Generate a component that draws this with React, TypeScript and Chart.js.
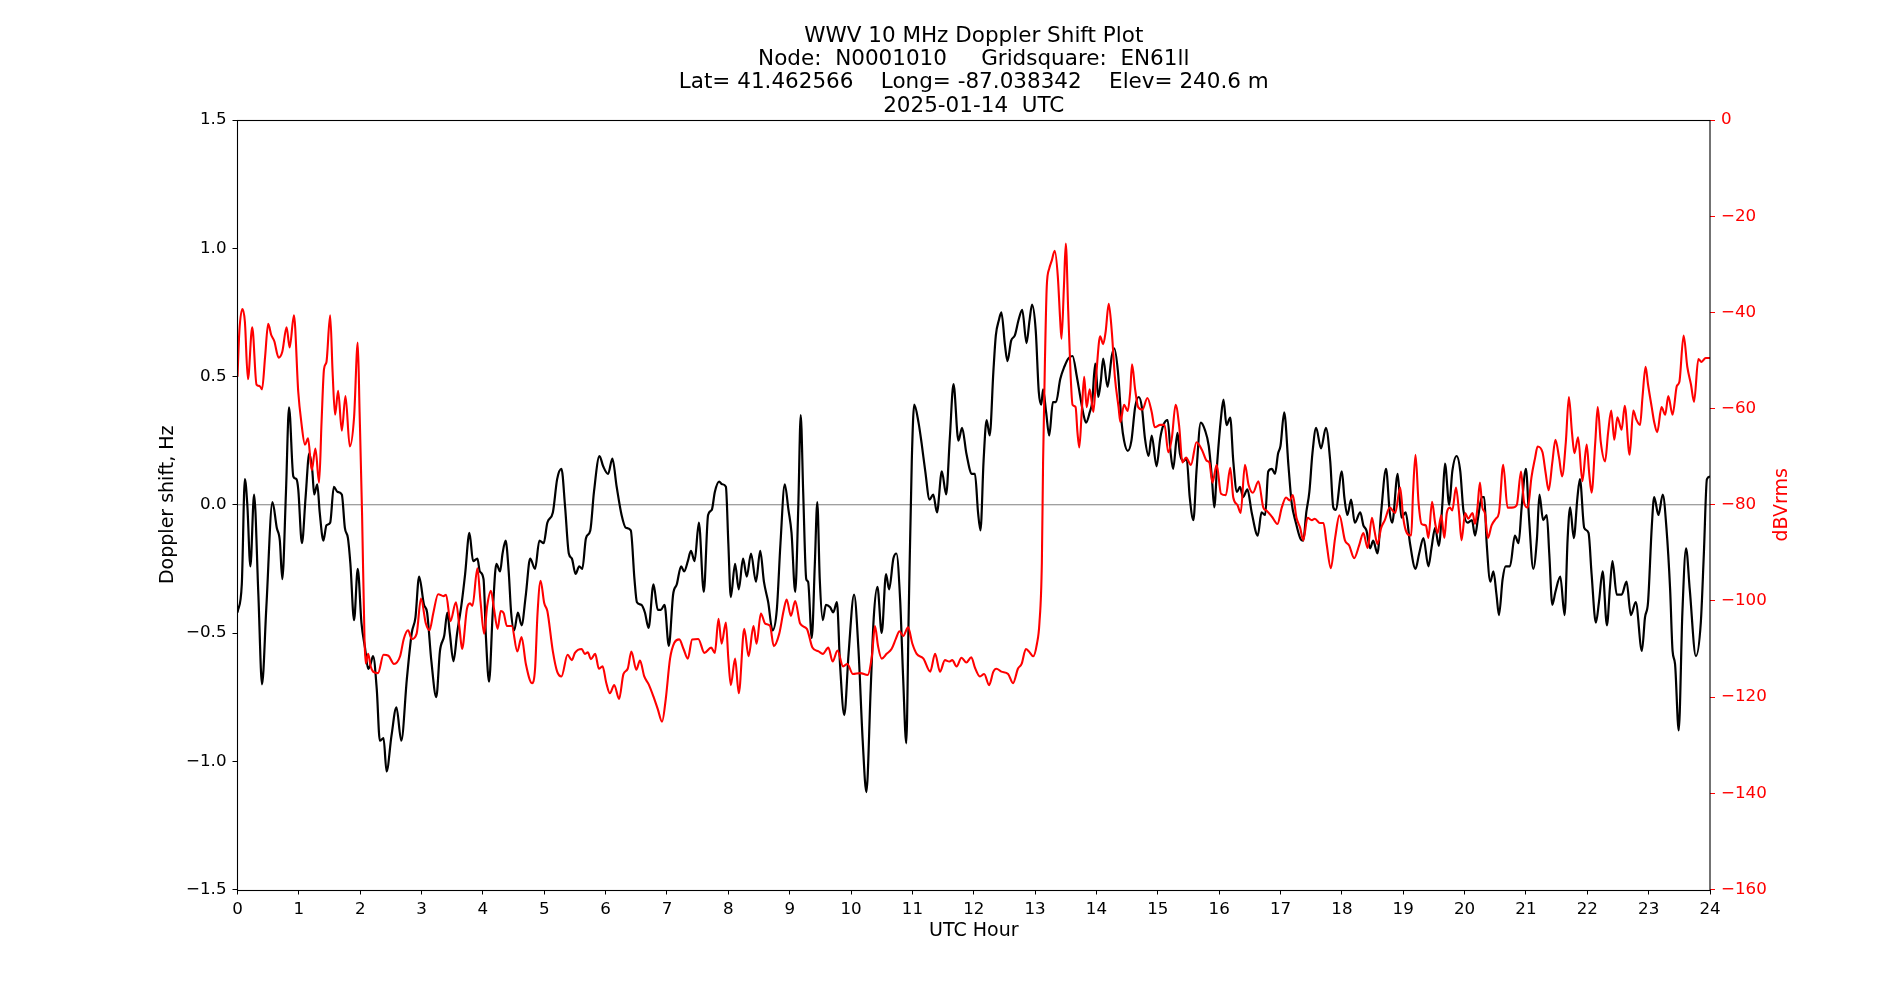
import React, { useEffect, useRef } from "react";
import { Chart, registerables } from "chart.js";

Chart.register(...registerables);

const TITLE_LINES = [
  "WWV 10 MHz Doppler Shift Plot",
  "Node:  N0001010     Gridsquare:  EN61ll",
  "Lat= 41.462566    Long= -87.038342    Elev= 240.6 m",
  "2025-01-14  UTC",
];
const X_LABEL = "UTC Hour";
const Y_LABEL = "Doppler shift, Hz";
const Y2_LABEL = "dBVrms";

const dopplerHours = [
  0.00, 0.07, 0.12, 0.16, 0.21, 0.27, 0.34, 0.40, 0.47, 0.57,
  0.64, 0.69, 0.73, 0.79, 0.84, 0.91, 0.96, 0.99, 1.05, 1.11,
  1.17, 1.22, 1.25, 1.30, 1.34, 1.40, 1.45, 1.51, 1.57, 1.63,
  1.70, 1.75, 1.80, 1.84, 1.90, 1.96, 2.02, 2.08, 2.13, 2.17,
  2.21, 2.27, 2.32, 2.38, 2.43, 2.51, 2.59, 2.67, 2.76, 2.84,
  2.90, 2.96, 3.04, 3.09, 3.16, 3.24, 3.30, 3.37, 3.42, 3.46,
  3.52, 3.58, 3.65, 3.71, 3.78, 3.84, 3.91, 3.95, 4.01, 4.05,
  4.10, 4.16, 4.22, 4.28, 4.32, 4.37, 4.42, 4.46, 4.51, 4.57,
  4.63, 4.70, 4.77, 4.85, 4.92, 4.99, 5.05, 5.14, 5.21, 5.28,
  5.34, 5.40, 5.45, 5.51, 5.57, 5.62, 5.68, 5.75, 5.81, 5.90,
  5.96, 6.04, 6.11, 6.18, 6.26, 6.33, 6.41, 6.47, 6.51, 6.58,
  6.64, 6.70, 6.78, 6.85, 6.90, 6.96, 7.03, 7.10, 7.16, 7.23,
  7.28, 7.34, 7.39, 7.45, 7.52, 7.60, 7.67, 7.73, 7.78, 7.85,
  7.90, 7.96, 8.00, 8.04, 8.11, 8.17, 8.24, 8.30, 8.37, 8.45,
  8.52, 8.58, 8.65, 8.72, 8.79, 8.85, 8.92, 8.98, 9.03, 9.09,
  9.14, 9.18, 9.22, 9.27, 9.30, 9.36, 9.41, 9.45, 9.49, 9.54,
  9.59, 9.66, 9.71, 9.77, 9.82, 9.89, 9.96, 10.05, 10.12, 10.19,
  10.25, 10.32, 10.37, 10.43, 10.50, 10.57, 10.62, 10.69, 10.74, 10.80,
  10.85, 10.90, 10.94, 10.99, 11.03, 11.10, 11.15, 11.21, 11.28, 11.34,
  11.40, 11.48, 11.55, 11.61, 11.67, 11.75, 11.81, 11.88, 11.97, 12.02,
  12.07, 12.11, 12.16, 12.21, 12.26, 12.32, 12.36, 12.41, 12.45, 12.51,
  12.55, 12.61, 12.67, 12.73, 12.79, 12.86, 12.91, 12.95, 13.01, 13.06,
  13.10, 13.13, 13.18, 13.23, 13.29, 13.34, 13.41, 13.48, 13.54, 13.61,
  13.68, 13.73, 13.79, 13.83, 13.89, 13.93, 13.98, 14.03, 14.07, 14.11,
  14.18, 14.25, 14.29, 14.35, 14.41, 14.45, 14.51, 14.57, 14.63, 14.69,
  14.74, 14.79, 14.85, 14.90, 14.98, 15.04, 15.09, 15.16, 15.21, 15.25,
  15.32, 15.36, 15.42, 15.47, 15.52, 15.58, 15.63, 15.70, 15.77, 15.83,
  15.88, 15.92, 15.97, 16.03, 16.07, 16.12, 16.18, 16.23, 16.29, 16.34,
  16.39, 16.46, 16.53, 16.63, 16.69, 16.75, 16.80, 16.86, 16.91, 16.96,
  17.00, 17.06, 17.13, 17.18, 17.25, 17.32, 17.37, 17.42, 17.47, 17.52,
  17.58, 17.66, 17.74, 17.81, 17.86, 17.90, 18.00, 18.04, 18.09, 18.15,
  18.21, 18.30, 18.35, 18.40, 18.46, 18.51, 18.58, 18.64, 18.72, 18.78,
  18.82, 18.91, 18.97, 19.04, 19.11, 19.20, 19.26, 19.33, 19.41, 19.46,
  19.52, 19.58, 19.64, 19.68, 19.75, 19.80, 19.87, 19.93, 19.98, 20.05,
  20.12, 20.17, 20.22, 20.28, 20.32, 20.36, 20.42, 20.47, 20.52, 20.56,
  20.62, 20.67, 20.74, 20.82, 20.88, 20.93, 21.00, 21.05, 21.12, 21.18,
  21.22, 21.28, 21.34, 21.38, 21.43, 21.48, 21.56, 21.63, 21.68, 21.72,
  21.78, 21.84, 21.88, 21.95, 22.02, 22.07, 22.14, 22.19, 22.25, 22.32,
  22.37, 22.41, 22.48, 22.56, 22.64, 22.71, 22.79, 22.89, 22.94, 22.99,
  23.05, 23.09, 23.16, 23.23, 23.29, 23.35, 23.39, 23.43, 23.49, 23.55,
  23.61, 23.67, 23.77, 23.85, 23.90, 23.95, 24.00,
];

const dopplerHz = [
  -0.42, -0.31, 0.10, 0.00, -0.24, 0.04, -0.35, -0.70, -0.40, 0.01,
  -0.09, -0.14, -0.29, 0.05, 0.38, 0.11, 0.10, 0.06, -0.15, 0.03,
  0.20, 0.13, 0.04, 0.08, -0.03, -0.14, -0.08, -0.07, 0.07, 0.05,
  0.04, -0.09, -0.13, -0.23, -0.45, -0.25, -0.46, -0.56, -0.64, -0.62,
  -0.59, -0.72, -0.92, -0.91, -1.04, -0.90, -0.79, -0.92, -0.68, -0.50,
  -0.44, -0.28, -0.39, -0.42, -0.61, -0.75, -0.57, -0.51, -0.42, -0.50,
  -0.61, -0.50, -0.39, -0.27, -0.11, -0.22, -0.21, -0.26, -0.29, -0.52,
  -0.69, -0.42, -0.23, -0.26, -0.19, -0.14, -0.26, -0.42, -0.49, -0.42,
  -0.47, -0.35, -0.21, -0.25, -0.14, -0.15, -0.07, -0.03, 0.10, 0.14,
  -0.01, -0.19, -0.21, -0.27, -0.24, -0.25, -0.13, -0.10, 0.05, 0.19,
  0.15, 0.12, 0.18, 0.07, -0.04, -0.09, -0.10, -0.29, -0.38, -0.39,
  -0.42, -0.48, -0.31, -0.41, -0.41, -0.39, -0.55, -0.35, -0.31, -0.24,
  -0.26, -0.22, -0.18, -0.22, -0.07, -0.34, -0.04, -0.02, 0.05, 0.09,
  0.08, 0.07, -0.15, -0.36, -0.23, -0.33, -0.21, -0.28, -0.19, -0.30,
  -0.18, -0.30, -0.38, -0.49, -0.41, -0.15, 0.08, -0.02, -0.11, -0.34,
  -0.01, 0.35, 0.05, -0.29, -0.30, -0.52, -0.23, 0.01, -0.29, -0.45,
  -0.39, -0.40, -0.42, -0.38, -0.62, -0.82, -0.58, -0.35, -0.56, -0.92,
  -1.12, -0.72, -0.44, -0.32, -0.50, -0.27, -0.33, -0.21, -0.19, -0.37,
  -0.68, -0.93, -0.42, 0.17, 0.39, 0.32, 0.24, 0.13, 0.02, 0.04,
  -0.03, 0.13, 0.04, 0.26, 0.47, 0.25, 0.30, 0.20, 0.12, 0.12,
  -0.03, -0.10, 0.17, 0.33, 0.27, 0.52, 0.66, 0.72, 0.75, 0.62,
  0.56, 0.64, 0.66, 0.72, 0.76, 0.63, 0.72, 0.78, 0.68, 0.44,
  0.39, 0.45, 0.36, 0.27, 0.40, 0.40, 0.49, 0.54, 0.57, 0.58,
  0.50, 0.43, 0.35, 0.32, 0.36, 0.40, 0.55, 0.42, 0.48, 0.57,
  0.46, 0.58, 0.61, 0.52, 0.32, 0.25, 0.21, 0.25, 0.38, 0.42,
  0.38, 0.26, 0.19, 0.27, 0.15, 0.26, 0.31, 0.33, 0.20, 0.14,
  0.28, 0.20, 0.17, 0.18, 0.03, -0.06, 0.13, 0.32, 0.29, 0.23,
  0.11, -0.01, 0.17, 0.34, 0.41, 0.31, 0.34, 0.17, 0.05, 0.07,
  0.03, 0.06, -0.03, -0.12, -0.03, -0.04, 0.13, 0.14, 0.12, 0.20,
  0.23, 0.36, 0.15, 0.01, -0.07, -0.13, -0.14, -0.03, 0.05, 0.20,
  0.30, 0.22, 0.30, 0.17, -0.01, -0.02, 0.13, 0.03, -0.04, 0.02,
  -0.07, -0.03, -0.08, -0.10, -0.17, -0.14, -0.19, -0.03, 0.14, -0.03,
  -0.07, 0.12, -0.05, -0.03, -0.15, -0.25, -0.19, -0.13, -0.24, -0.17,
  -0.09, -0.16, 0.01, 0.16, 0.00, 0.13, 0.19, 0.13, -0.02, -0.07,
  -0.06, -0.12, -0.05, 0.03, 0.03, -0.15, -0.30, -0.26, -0.35, -0.43,
  -0.29, -0.24, -0.24, -0.12, -0.15, -0.01, 0.14, -0.05, -0.25, -0.13,
  0.04, -0.06, -0.04, -0.19, -0.39, -0.34, -0.28, -0.43, -0.13, -0.01,
  -0.13, 0.03, 0.10, -0.09, -0.11, -0.27, -0.46, -0.38, -0.26, -0.47,
  -0.32, -0.22, -0.35, -0.35, -0.30, -0.43, -0.38, -0.57, -0.44, -0.38,
  -0.09, 0.03, -0.04, 0.04, -0.09, -0.33, -0.57, -0.62, -0.88, -0.42,
  -0.17, -0.33, -0.59, -0.46, -0.19, 0.10, 0.11,
];

const powerHours = [
  0.00, 0.03, 0.08, 0.12, 0.17, 0.24, 0.31, 0.36, 0.40, 0.45,
  0.50, 0.55, 0.60, 0.67, 0.73, 0.80, 0.85, 0.92, 0.99, 1.04,
  1.10, 1.15, 1.21, 1.27, 1.33, 1.37, 1.41, 1.45, 1.51, 1.55,
  1.59, 1.64, 1.70, 1.76, 1.83, 1.90, 1.96, 1.99, 2.03, 2.07,
  2.09, 2.13, 2.17, 2.21, 2.29, 2.38, 2.46, 2.55, 2.65, 2.71,
  2.78, 2.84, 2.92, 2.99, 3.07, 3.13, 3.19, 3.27, 3.36, 3.40,
  3.47, 3.56, 3.62, 3.66, 3.74, 3.79, 3.83, 3.91, 3.96, 4.02,
  4.07, 4.13, 4.18, 4.24, 4.29, 4.34, 4.39, 4.47, 4.56, 4.63,
  4.70, 4.80, 4.85, 4.89, 4.94, 5.00, 5.05, 5.14, 5.21, 5.28,
  5.38, 5.45, 5.50, 5.61, 5.66, 5.71, 5.76, 5.83, 5.89, 5.95,
  6.01, 6.07, 6.14, 6.22, 6.29, 6.36, 6.42, 6.50, 6.56, 6.63,
  6.70, 6.78, 6.85, 6.92, 6.98, 7.05, 7.12, 7.20, 7.27, 7.34,
  7.41, 7.51, 7.61, 7.72, 7.78, 7.84, 7.89, 7.96, 8.00, 8.04,
  8.11, 8.17, 8.26, 8.33, 8.41, 8.46, 8.53, 8.60, 8.68, 8.74,
  8.83, 8.90, 8.95, 9.02, 9.09, 9.17, 9.28, 9.37, 9.47, 9.54,
  9.63, 9.70, 9.78, 9.87, 9.94, 10.03, 10.15, 10.27, 10.34, 10.39,
  10.44, 10.50, 10.58, 10.66, 10.73, 10.79, 10.85, 10.93, 11.00, 11.07,
  11.18, 11.29, 11.37, 11.45, 11.53, 11.60, 11.65, 11.72, 11.80, 11.88,
  11.96, 12.02, 12.10, 12.17, 12.25, 12.32, 12.37, 12.45, 12.56, 12.64,
  12.72, 12.78, 12.85, 12.90, 12.97, 13.03, 13.07, 13.11, 13.13, 13.16,
  13.19, 13.23, 13.27, 13.32, 13.37, 13.41, 13.43, 13.47, 13.50, 13.54,
  13.58, 13.61, 13.66, 13.69, 13.72, 13.76, 13.80, 13.84, 13.89, 13.95,
  14.00, 14.06, 14.11, 14.15, 14.20, 14.25, 14.30, 14.36, 14.39, 14.45,
  14.51, 14.55, 14.58, 14.63, 14.68, 14.75, 14.83, 14.90, 14.95, 15.04,
  15.11, 15.17, 15.23, 15.29, 15.35, 15.40, 15.46, 15.54, 15.63, 15.72,
  15.80, 15.84, 15.89, 15.96, 16.03, 16.11, 16.18, 16.23, 16.30, 16.35,
  16.42, 16.48, 16.55, 16.64, 16.72, 16.77, 16.86, 16.95, 17.02, 17.09,
  17.15, 17.20, 17.26, 17.32, 17.37, 17.44, 17.51, 17.56, 17.64, 17.70,
  17.75, 17.82, 17.89, 17.96, 18.05, 18.12, 18.20, 18.28, 18.35, 18.42,
  18.49, 18.53, 18.58, 18.64, 18.70, 18.78, 18.87, 18.95, 19.00, 19.06,
  19.13, 19.16, 19.20, 19.25, 19.30, 19.37, 19.41, 19.47, 19.52, 19.56,
  19.62, 19.67, 19.71, 19.76, 19.80, 19.86, 19.91, 19.95, 20.01, 20.06,
  20.13, 20.17, 20.21, 20.25, 20.29, 20.33, 20.38, 20.44, 20.51, 20.56,
  20.63, 20.70, 20.77, 20.85, 20.92, 20.97, 21.03, 21.09, 21.15, 21.19,
  21.27, 21.32, 21.37, 21.43, 21.48, 21.54, 21.59, 21.65, 21.70, 21.75,
  21.79, 21.85, 21.92, 21.99, 22.03, 22.07, 22.13, 22.17, 22.22, 22.29,
  22.34, 22.39, 22.44, 22.49, 22.56, 22.61, 22.69, 22.75, 22.80, 22.86,
  22.90, 22.95, 22.99, 23.05, 23.09, 23.14, 23.21, 23.27, 23.32, 23.39,
  23.46, 23.50, 23.57, 23.63, 23.69, 23.74, 23.81, 23.86, 23.93, 24.00,
];

const powerDb = [
  -53.4, -44.0, -39.3, -41.9, -53.9, -43.1, -55.0, -55.3, -56.0, -49.2,
  -42.4, -44.7, -46.0, -49.4, -48.2, -43.1, -47.3, -40.6, -56.5, -62.8,
  -67.5, -66.2, -72.8, -68.3, -75.4, -62.8, -51.8, -50.3, -40.6, -52.4,
  -61.3, -56.3, -64.6, -57.4, -67.9, -61.8, -46.3, -60.7, -81.7, -107.9,
  -113.0, -111.0, -113.6, -114.7, -115.0, -111.2, -111.4, -113.1, -111.5, -107.9,
  -106.1, -107.9, -106.8, -99.5, -104.7, -106.1, -102.6, -98.6, -99.0, -98.7,
  -104.2, -100.3, -105.8, -110.0, -101.6, -100.5, -101.0, -93.2, -100.0, -106.8,
  -101.0, -97.9, -101.6, -105.8, -102.1, -102.6, -105.2, -105.2, -110.5, -107.5,
  -113.1, -117.1, -114.1, -102.6, -95.8, -100.5, -102.1, -110.5, -114.7, -115.7,
  -111.2, -112.3, -110.8, -110.0, -111.0, -110.7, -112.1, -111.0, -114.1, -113.6,
  -117.0, -119.2, -117.5, -120.4, -115.2, -114.1, -110.5, -114.3, -112.4, -115.7,
  -117.3, -119.9, -122.5, -125.1, -120.4, -112.0, -108.7, -108.0, -110.0, -112.0,
  -108.0, -107.9, -110.8, -109.7, -110.8, -103.7, -108.9, -104.5, -112.0, -117.5,
  -112.0, -119.2, -105.8, -111.5, -105.2, -108.9, -102.6, -104.7, -105.2, -109.4,
  -106.8, -102.1, -99.7, -103.1, -100.0, -104.7, -105.8, -109.7, -110.5, -111.0,
  -109.7, -112.6, -110.3, -113.6, -113.1, -115.2, -115.0, -115.4, -111.5, -105.2,
  -109.4, -112.0, -111.0, -110.0, -107.9, -106.3, -107.3, -105.5, -108.9, -111.0,
  -112.0, -114.7, -111.0, -114.7, -112.3, -112.6, -112.3, -113.6, -111.8, -112.8,
  -111.7, -113.9, -115.7, -115.2, -117.5, -114.7, -114.1, -114.7, -115.2, -117.1,
  -114.1, -113.1, -110.0, -110.5, -111.5, -108.9, -104.7, -92.1, -71.2, -50.3,
  -34.6, -30.9, -29.3, -27.2, -32.5, -41.9, -45.5, -34.6, -25.7, -39.8,
  -53.4, -59.2, -59.7, -64.9, -68.1, -60.7, -53.4, -59.7, -56.0, -60.7,
  -52.4, -45.0, -46.6, -44.0, -38.2, -44.0, -53.4, -59.7, -62.8, -59.2,
  -60.5, -56.5, -50.8, -56.0, -59.7, -60.2, -57.8, -60.7, -63.9, -63.4,
  -63.4, -69.1, -66.0, -59.2, -63.9, -71.2, -70.2, -71.7, -67.0, -68.6,
  -70.9, -71.2, -75.4, -71.7, -77.7, -78.0, -72.3, -78.5, -80.1, -81.7,
  -71.7, -75.9, -77.5, -75.1, -80.6, -81.2, -82.5, -84.0, -80.6, -78.5,
  -79.1, -78.0, -82.7, -84.8, -87.4, -82.7, -83.2, -82.9, -83.8, -83.8,
  -88.0, -93.2, -86.9, -82.2, -87.4, -88.5, -91.1, -88.5, -85.9, -89.0,
  -82.7, -85.3, -88.2, -84.8, -83.2, -80.6, -81.7, -76.4, -82.7, -85.9,
  -86.4, -77.5, -69.6, -79.6, -84.0, -84.3, -86.9, -79.4, -83.8, -85.9,
  -82.2, -86.9, -81.7, -80.6, -81.2, -76.4, -81.7, -87.4, -81.7, -82.9,
  -81.7, -84.0, -80.6, -75.4, -80.6, -81.7, -86.9, -84.3, -82.9, -81.7,
  -71.7, -80.6, -80.6, -80.1, -73.1, -79.6, -80.6, -74.3, -70.2, -67.9,
  -69.1, -73.3, -77.0, -71.2, -66.5, -70.2, -74.1, -67.0, -57.6, -64.9,
  -69.3, -66.0, -75.1, -67.5, -73.3, -77.5, -67.0, -59.7, -67.0, -71.0,
  -64.9, -60.4, -66.5, -61.8, -64.4, -59.4, -69.6, -60.4, -62.3, -63.4,
  -57.6, -51.3, -55.0, -59.7, -62.8, -64.9, -59.7, -61.3, -57.4, -61.3,
  -55.3, -54.5, -44.8, -51.3, -55.0, -58.6, -49.7, -50.3, -49.5, -49.5,
];

const zeroLineHours = [0, 24];
const zeroLineHz = [0, 0];

const FONT = "'DejaVu Sans', 'Liberation Sans', sans-serif";
const fmt = (v: number, d: number) =>
  (v < -1e-9 ? "\u2212" : "") + Math.abs(v).toFixed(d);

const decorPlugin = {
  id: "decor",
  beforeDraw(chart: any) {
    const ctx = chart.ctx;
    ctx.save();
    ctx.fillStyle = "#ffffff";
    ctx.fillRect(0, 0, chart.width, chart.height);
    ctx.restore();
  },
  afterDraw(chart: any) {
    const ctx = chart.ctx;
    const a = chart.chartArea;
    ctx.save();
    ctx.strokeStyle = "#000000";
    ctx.lineWidth = 1.1;
    ctx.strokeRect(a.left, Math.round(a.top) + 0.5, a.right - a.left, Math.round(a.bottom) - Math.round(a.top));
    const cx = (a.left + a.right) / 2;
    const cy = (a.top + a.bottom) / 2;
    ctx.fillStyle = "#000000";
    ctx.textAlign = "center";
    ctx.textBaseline = "alphabetic";
    ctx.font = `21.5px ${FONT}`;
    TITLE_LINES.forEach((t, i) => ctx.fillText(t, cx, 42.2 + i * 23.1));
    ctx.font = `19px ${FONT}`;
    ctx.textBaseline = "middle";
    ctx.fillText(X_LABEL, cx, 931);
    ctx.save();
    ctx.translate(168, cy);
    ctx.rotate(-Math.PI / 2);
    ctx.fillText(Y_LABEL, 0, 0);
    ctx.restore();
    ctx.save();
    ctx.fillStyle = "#ff0000";
    ctx.translate(1782, cy);
    ctx.rotate(-Math.PI / 2);
    ctx.fillText(Y2_LABEL, 0, 0);
    ctx.restore();
    ctx.restore();
  },
};

export default function App() {
  const canvasRef = useRef<HTMLCanvasElement | null>(null);

  useEffect(() => {
    const canvas = canvasRef.current;
    if (!canvas) return;
    const doppler = dopplerHours.map((h, i) => ({ x: h, y: dopplerHz[i] }));
    const power = powerHours.map((h, i) => ({ x: h, y: powerDb[i] }));
    const zero = zeroLineHours.map((h, i) => ({ x: h, y: zeroLineHz[i] }));
    const tickFont = { family: FONT, size: 16.7 };

    const chart = new Chart(canvas, {
      type: "line",
      data: {
        datasets: [
          {
            label: "dBVrms",
            data: power,
            yAxisID: "y1",
            borderColor: "#ff0000",
            borderWidth: 2.1,
            pointRadius: 0,
            fill: false,
            cubicInterpolationMode: "monotone",
            order: 0,
          },
          {
            label: "Doppler",
            data: doppler,
            yAxisID: "y",
            borderColor: "#000000",
            borderWidth: 2.2,
            pointRadius: 0,
            fill: false,
            cubicInterpolationMode: "monotone",
            order: 1,
          },
          {
            label: "zero",
            data: zero,
            yAxisID: "y",
            borderColor: "#808080",
            borderWidth: 1.1,
            pointRadius: 0,
            fill: false,
            order: 2,
          },
        ],
      },
      options: {
        responsive: false,
        animation: false,
        devicePixelRatio: 1,
        layout: { padding: { top: 120, left: 0, right: 0, bottom: 0 } },
        plugins: {
          legend: { display: false },
          tooltip: { enabled: false },
          title: { display: false },
        },
        scales: {
          x: {
            type: "linear",
            position: "bottom",
            min: 0,
            max: 24,
            afterFit: (s: any) => {
              s.height = 110.5;
            },
            border: { display: false },
            grid: {
              drawOnChartArea: false,
              drawTicks: true,
              tickLength: 5,
              tickColor: "#000000",
              tickWidth: 1,
            },
            ticks: {
              stepSize: 1,
              autoSkip: false,
              maxRotation: 0,
              padding: 5,
              color: "#000000",
              font: tickFont,
              callback: (v: any) => String(Math.round(Number(v))),
            },
          },
          y: {
            type: "linear",
            position: "left",
            min: -1.5,
            max: 1.5,
            afterFit: (s: any) => {
              s.width = 237.5;
            },
            border: { display: false },
            grid: {
              drawOnChartArea: false,
              drawTicks: true,
              tickLength: 5,
              tickColor: "#000000",
              tickWidth: 1,
            },
            ticks: {
              stepSize: 0.5,
              padding: 6,
              color: "#000000",
              font: tickFont,
              callback: (v: any) => fmt(Number(v), 1),
            },
          },
          y1: {
            type: "linear",
            position: "right",
            min: -160,
            max: 0,
            afterFit: (s: any) => {
              s.width = 190;
            },
            border: { display: false },
            grid: {
              drawOnChartArea: false,
              drawTicks: true,
              tickLength: 5,
              tickColor: "#ff0000",
              tickWidth: 1,
            },
            ticks: {
              stepSize: 20,
              padding: 6,
              color: "#ff0000",
              font: tickFont,
              callback: (v: any) => fmt(Number(v), 0),
            },
          },
        },
      },
      plugins: [decorPlugin],
    } as any);

    return () => {
      chart.destroy();
    };
  }, []);

  return (
    <div style={{ position: "absolute", left: 0, top: 0, width: 1900, height: 1000, background: "#ffffff" }}>
      <canvas ref={canvasRef} width={1900} height={1000} style={{ display: "block", width: 1900, height: 1000 }} />
    </div>
  );
}
